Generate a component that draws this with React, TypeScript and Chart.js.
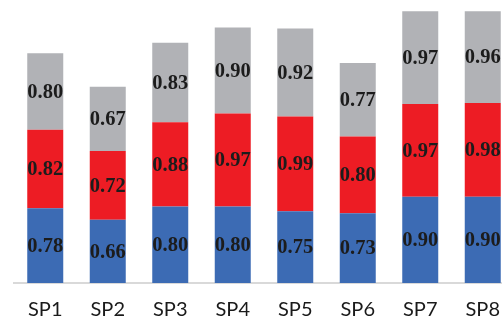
import React, { useEffect, useRef } from "react";
import { Chart, registerables } from "chart.js";

Chart.register(...registerables);

const categories = ["SP1", "SP2", "SP3", "SP4", "SP5", "SP6", "SP7", "SP8"];
const blueValues = [0.78, 0.66, 0.8, 0.8, 0.75, 0.73, 0.9, 0.9];
const redValues = [0.82, 0.72, 0.88, 0.97, 0.99, 0.8, 0.97, 0.98];
const grayValues = [0.8, 0.67, 0.83, 0.9, 0.92, 0.77, 0.97, 0.96];

const labelPlugin = {
  id: "segmentLabels",
  afterDatasetsDraw(chart: any) {
    const ctx = chart.ctx;
    ctx.save();
    ctx.font = "bold 20.5px 'Liberation Serif', 'Times New Roman', serif";
    ctx.fillStyle = "#1c1c1c";
    ctx.textAlign = "center";
    ctx.textBaseline = "middle";
    chart.data.datasets.forEach((ds: any, di: number) => {
      const meta = chart.getDatasetMeta(di);
      meta.data.forEach((el: any, i: number) => {
        const v = ds.data[i] as number;
        const y = (el.y + el.base) / 2;
        ctx.fillText(v.toFixed(2), el.x, y + 1);
      });
    });
    ctx.restore();
  },
};

export default function App() {
  const ref = useRef<HTMLCanvasElement>(null);
  useEffect(() => {
    if (!ref.current) return;
    const chart = new Chart(ref.current, {
      type: "bar",
      data: {
        labels: categories,
        datasets: [
          { label: "A", data: blueValues, backgroundColor: "#3C6BB4" },
          { label: "B", data: redValues, backgroundColor: "#ED1C24" },
          { label: "C", data: grayValues, backgroundColor: "#B1B2B6" },
        ],
      },
      options: {
        responsive: false,
        animation: false,
        layout: { padding: { left: 14, right: 6, top: 0, bottom: 0 } },
        datasets: {
          bar: { barPercentage: 0.576, categoryPercentage: 1 },
        },
        plugins: {
          legend: { display: false },
          tooltip: { enabled: false },
        },
        scales: {
          x: {
            stacked: true,
            grid: { display: false },
            border: { display: true, color: "#D9D9D9", width: 2 },
            ticks: {
              color: "#1a1a1a",
              font: { family: "Lato", size: 20 },
              padding: 7,
              maxRotation: 0,
            },
            afterFit: (scale: any) => {
              scale.height = 37;
            },
          },
          y: {
            stacked: true,
            display: false,
            min: 0,
            max: 2.957,
          },
        },
      },
      plugins: [labelPlugin],
    });
    return () => chart.destroy();
  }, []);
  return (
    <div
      style={{
        position: "absolute",
        left: 0,
        top: 0,
        width: 502,
        height: 320,
        overflow: "hidden",
        background: "#fff",
      }}
    >
      <canvas ref={ref} width={520} height={320} style={{ width: 520, height: 320 }} />
    </div>
  );
}
